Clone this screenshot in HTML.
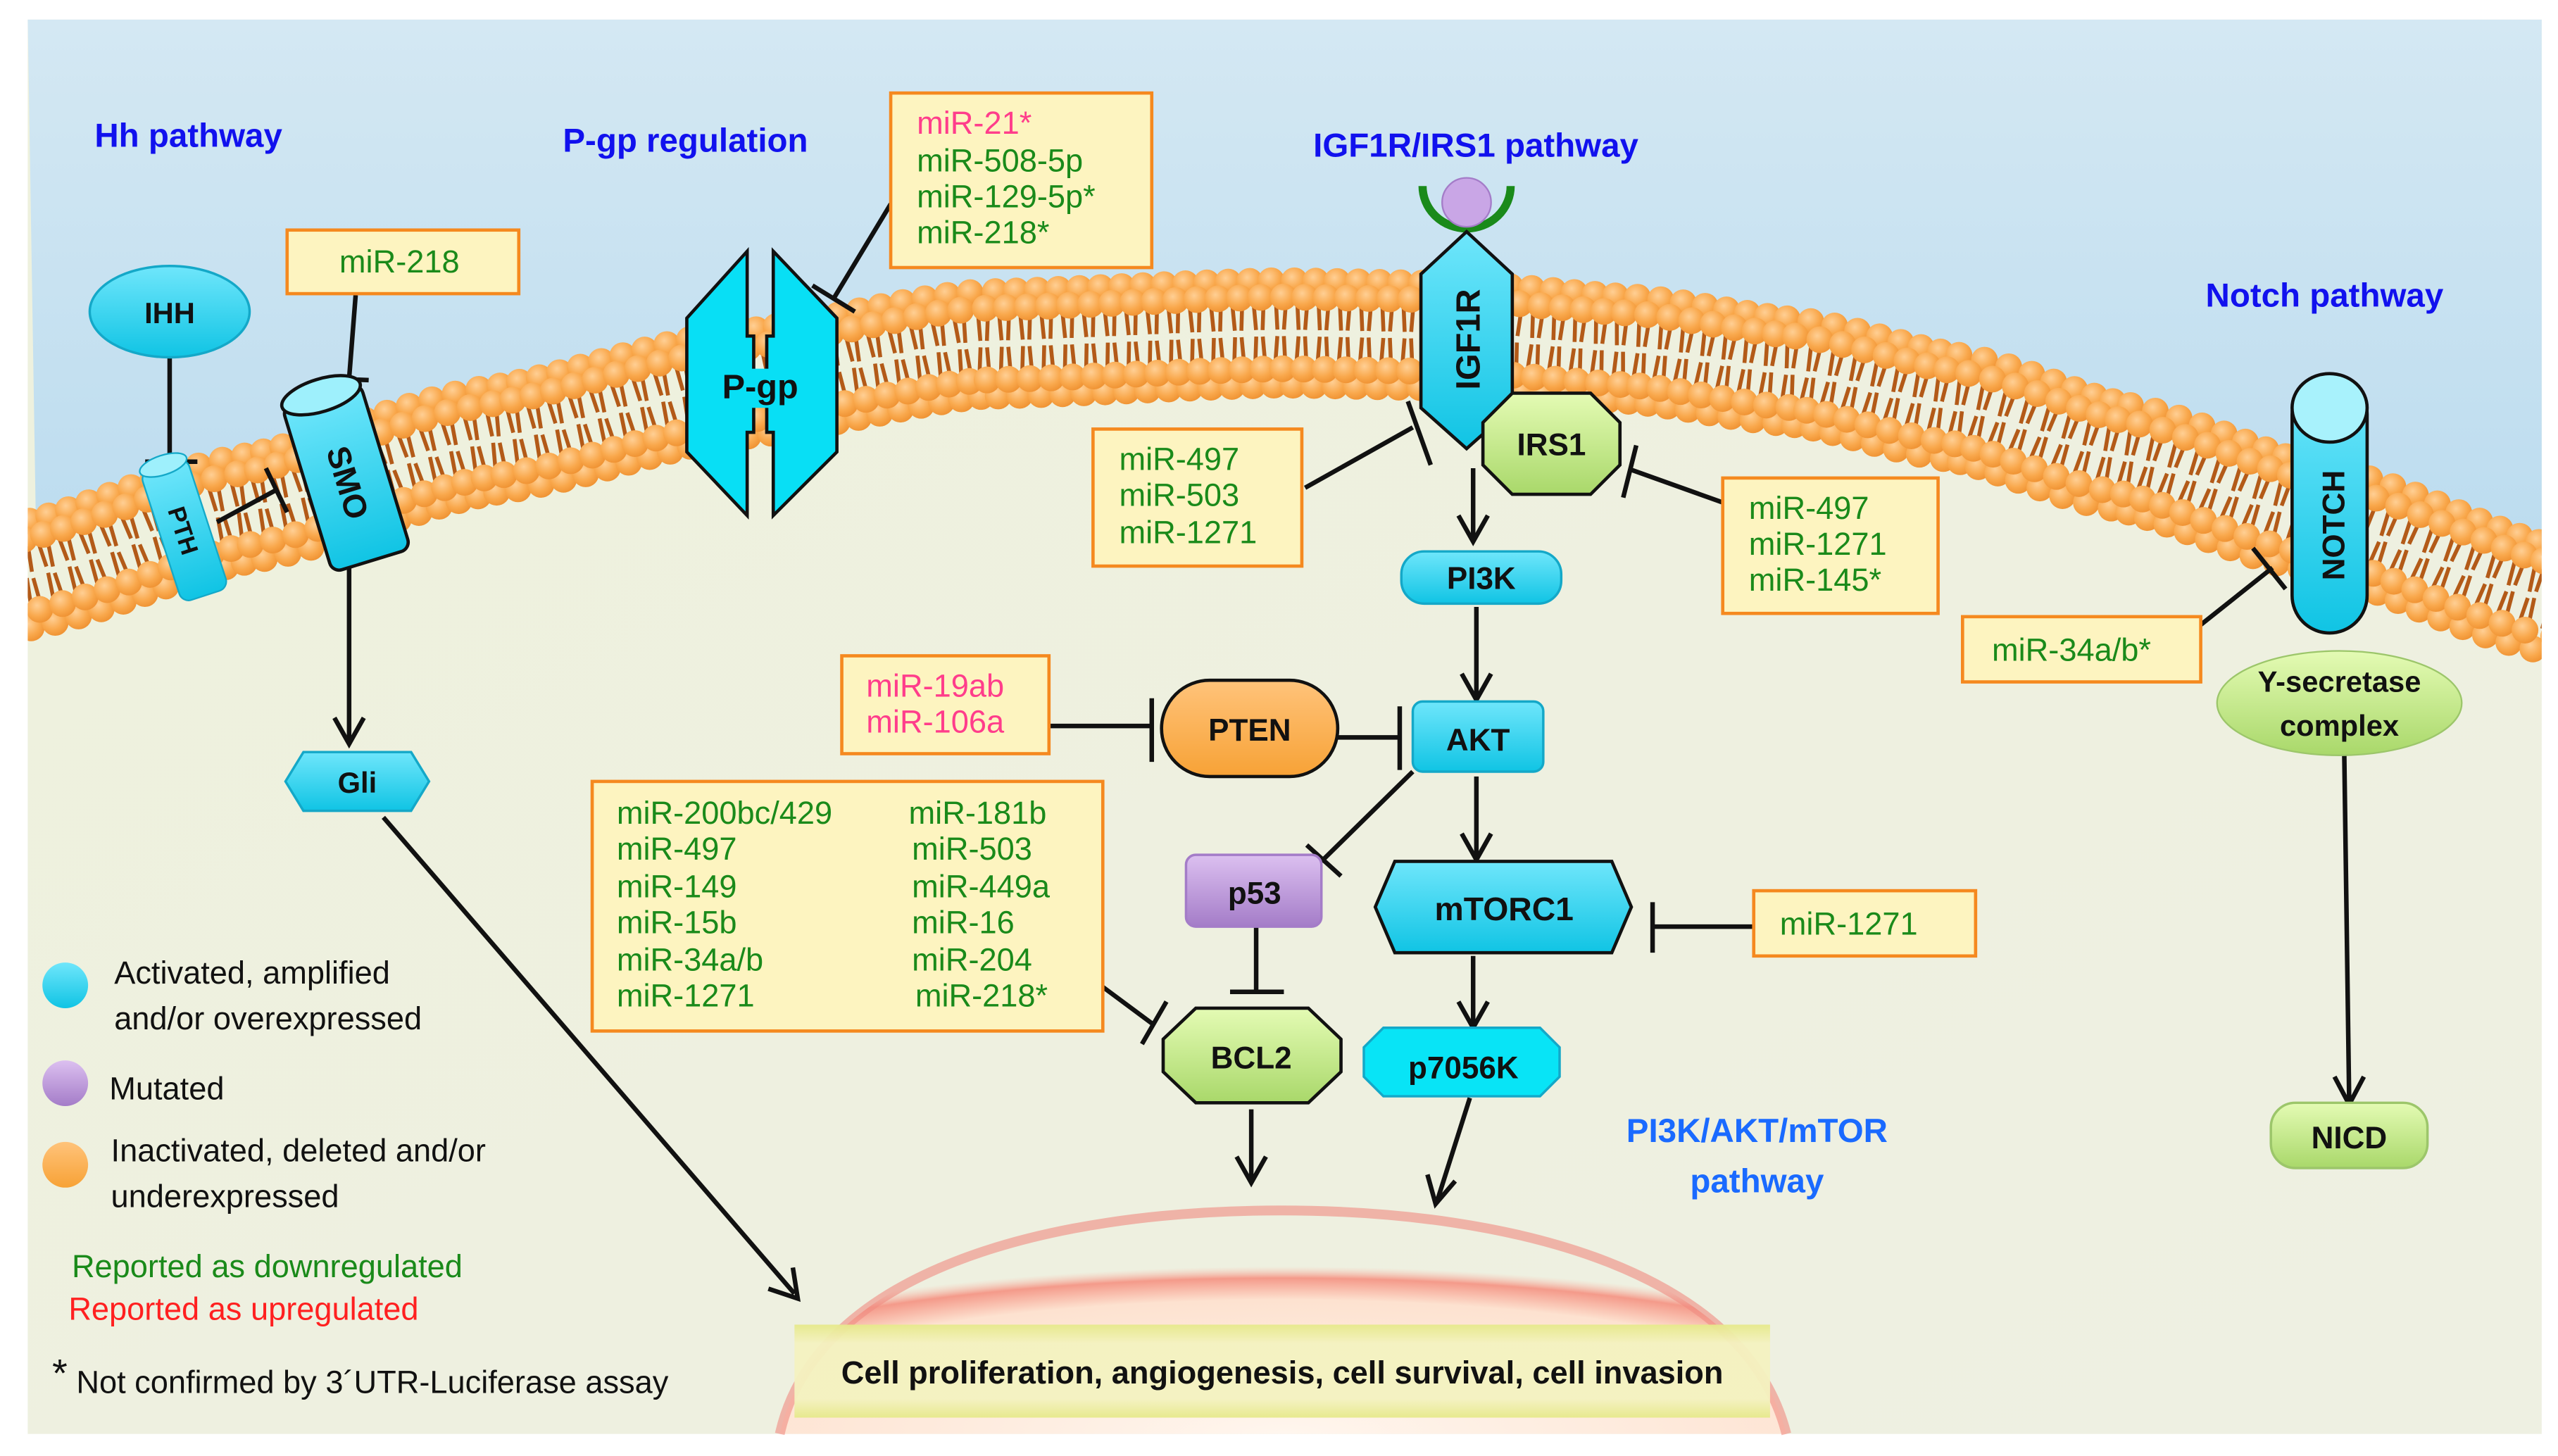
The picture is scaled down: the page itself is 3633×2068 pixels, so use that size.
<!DOCTYPE html>
<html><head><meta charset="utf-8"><style>
html,body{margin:0;padding:0;background:#fff;width:3633px;height:2068px;overflow:hidden}
svg{display:block}
text{font-family:"Liberation Sans",sans-serif}
.b{font-weight:bold;fill:#111}
.g{fill:#1a8a1a}
.p{fill:#ff3d8b}
.bl{fill:#1111ee;font-weight:bold}
</style></head><body>
<svg id="s" width="3633" height="2068" viewBox="0 0 1568 892.5" xmlns="http://www.w3.org/2000/svg">
<defs>
<clipPath id="pc"><rect x="17" y="12" width="1541" height="867"/></clipPath>
<linearGradient id="cream" x1="0" y1="0" x2="1" y2="1"><stop offset="0" stop-color="#eef1dd"/><stop offset="1" stop-color="#eef0e2"/></linearGradient>
<linearGradient id="sky" x1="0" y1="0" x2="0" y2="1"><stop offset="0" stop-color="#d4e8f3"/><stop offset="1" stop-color="#bcdcef"/></linearGradient>
<radialGradient id="ball" cx="0.4" cy="0.35" r="0.7"><stop offset="0" stop-color="#ffcf94"/><stop offset="0.6" stop-color="#f9a84c"/><stop offset="1" stop-color="#ee9030"/></radialGradient>
<linearGradient id="cy" x1="0" y1="0" x2="0" y2="1"><stop offset="0" stop-color="#6fe6fb"/><stop offset="1" stop-color="#10c4e4"/></linearGradient>
<linearGradient id="gr" x1="0" y1="0" x2="0" y2="1"><stop offset="0" stop-color="#e4fbb4"/><stop offset="1" stop-color="#a9d86a"/></linearGradient>
<linearGradient id="pu" x1="0" y1="0" x2="0" y2="1"><stop offset="0" stop-color="#dcc0f0"/><stop offset="1" stop-color="#a47cc8"/></linearGradient>
<linearGradient id="or" x1="0" y1="0" x2="0" y2="1"><stop offset="0" stop-color="#ffc37a"/><stop offset="1" stop-color="#f7a236"/></linearGradient>
<radialGradient id="nuc" cx="0.5" cy="1" r="0.75"><stop offset="0" stop-color="#fff6ee"/><stop offset="0.8" stop-color="#fde2d0"/><stop offset="0.93" stop-color="#f49a8a"/><stop offset="1" stop-color="#f7c7b8" stop-opacity="0"/></radialGradient>
<linearGradient id="cp" x1="0" y1="0" x2="0" y2="1"><stop offset="0" stop-color="#e6e98a"/><stop offset="0.2" stop-color="#f4f2c0"/><stop offset="0.8" stop-color="#f4f2c0"/><stop offset="1" stop-color="#e6e98a"/></linearGradient>
</defs>
<rect x="17" y="12" width="1541" height="867" fill="url(#cream)"/>
<path id="skyp" fill="url(#sky)" d=""/>
<path d="M478,879 C500,780 640,742 785,742 C930,742 1070,780 1095,879 Z" fill="url(#nuc)"/>
<path d="M478,879 C500,780 640,742 785,742 C930,742 1070,780 1095,879" fill="none" stroke="#f08a80" stroke-width="6" opacity="0.6"/>
<rect x="487" y="812" width="598" height="57" fill="url(#cp)" opacity="0.95"/>
<text x="786" y="848" text-anchor="middle" class="b" font-size="19.5">Cell proliferation, angiogenesis, cell survival, cell invasion</text>
<g id="mem" clip-path="url(#pc)"></g>

<g stroke="#111" stroke-width="2.8" fill="none" stroke-linecap="butt">
<line x1="104" y1="218" x2="104" y2="283"/><line x1="89" y1="283" x2="121" y2="283"/>
<line x1="218" y1="181" x2="214" y2="232"/><line x1="201" y1="232" x2="226" y2="233"/>
<line x1="133" y1="320" x2="170" y2="300"/><line x1="163" y1="287" x2="176" y2="314"/>
<line x1="214" y1="345" x2="214" y2="454"/><path d="M205,440 L214,456 L223,440"/>
<line x1="235" y1="501" x2="487" y2="793"/><path d="M471,790 L489,796 L486,777"/>
<line x1="546" y1="125" x2="511" y2="183"/><line x1="498" y1="175" x2="524" y2="191"/>
<line x1="800" y1="299" x2="866" y2="262"/><line x1="863" y1="246" x2="877" y2="285"/>
<line x1="1056" y1="308" x2="1000" y2="288"/><line x1="1003" y1="273" x2="995" y2="305"/>
<line x1="903" y1="287" x2="903" y2="330"/><path d="M894,316 L903,332 L912,316"/>
<line x1="905" y1="372" x2="905" y2="427"/><path d="M896,413 L905,429 L914,413"/>
<line x1="643" y1="445" x2="705" y2="445"/><line x1="706" y1="428" x2="706" y2="467"/>
<line x1="820" y1="452" x2="857" y2="452"/><line x1="858" y1="433" x2="858" y2="472"/>
<line x1="866" y1="473" x2="810" y2="528"/><line x1="801" y1="518" x2="822" y2="537"/>
<line x1="905" y1="476" x2="905" y2="525"/><path d="M896,511 L905,527 L914,511"/>
<line x1="1075" y1="568" x2="1013" y2="568"/><line x1="1013" y1="553" x2="1013" y2="584"/>
<line x1="676" y1="605" x2="707" y2="628"/><line x1="715" y1="614" x2="700" y2="640"/>
<line x1="770" y1="568" x2="770" y2="607"/><line x1="754" y1="608" x2="787" y2="608"/>
<line x1="767" y1="680" x2="767" y2="723"/><path d="M758,709 L767,725 L776,709"/>
<line x1="903" y1="586" x2="903" y2="628"/><path d="M894,614 L903,630 L912,614"/>
<line x1="901" y1="673" x2="881" y2="736"/><path d="M875,720 L880,738 L892,724"/>
<line x1="1349" y1="383" x2="1393" y2="348"/><line x1="1381" y1="336" x2="1401" y2="361"/>
<line x1="1437" y1="463" x2="1440" y2="675"/><path d="M1431,660 L1440,677 L1449,660"/>
</g>

<g fill="#fdf4c0" stroke="#f5891f" stroke-width="2">
<rect x="546" y="57" width="160" height="107"/>
<rect x="176" y="141" width="142" height="39"/>
<rect x="670" y="263" width="128" height="84"/>
<rect x="1056" y="293" width="132" height="83"/>
<rect x="516" y="402" width="127" height="60"/>
<rect x="363" y="479" width="313" height="153"/>
<rect x="1075" y="546" width="136" height="40"/>
<rect x="1203" y="378" width="146" height="40"/>
</g>
<g font-size="19.5">
<text x="562" y="82" class="p">miR-21*</text>
<text x="562" y="105" class="g">miR-508-5p</text>
<text x="562" y="127" class="g">miR-129-5p*</text>
<text x="562" y="149" class="g">miR-218*</text>
<text x="208" y="167" class="g">miR-218</text>
<text x="686" y="288" class="g">miR-497</text>
<text x="686" y="310" class="g">miR-503</text>
<text x="686" y="333" class="g">miR-1271</text>
<text x="1072" y="318" class="g">miR-497</text>
<text x="1072" y="340" class="g">miR-1271</text>
<text x="1072" y="362" class="g">miR-145*</text>
<text x="531" y="427" class="p">miR-19ab</text>
<text x="531" y="449" class="p">miR-106a</text>
<text x="378" y="505" class="g">miR-200bc/429</text>
<text x="378" y="527" class="g">miR-497</text>
<text x="378" y="550" class="g">miR-149</text>
<text x="378" y="572" class="g">miR-15b</text>
<text x="378" y="595" class="g">miR-34a/b</text>
<text x="378" y="617" class="g">miR-1271</text>
<text x="557" y="505" class="g">miR-181b</text>
<text x="559" y="527" class="g">miR-503</text>
<text x="559" y="550" class="g">miR-449a</text>
<text x="559" y="572" class="g">miR-16</text>
<text x="559" y="595" class="g">miR-204</text>
<text x="561" y="617" class="g">miR-218*</text>
<text x="1091" y="573" class="g">miR-1271</text>
<text x="1221" y="405" class="g">miR-34a/b*</text>
</g>

<g font-size="20.5">
<text x="58" y="90" class="bl">Hh pathway</text>
<text x="345" y="93" class="bl">P-gp regulation</text>
<text x="805" y="96" class="bl">IGF1R/IRS1 pathway</text>
<text x="1352" y="188" class="bl">Notch pathway</text>
<text x="1077" y="700" text-anchor="middle" font-weight="bold" fill="#1a6aff">PI3K/AKT/mTOR</text>
<text x="1077" y="731" text-anchor="middle" font-weight="bold" fill="#1a6aff">pathway</text>
</g>

<ellipse cx="104" cy="191" rx="49" ry="28" fill="url(#cy)" stroke="#14a8c8" stroke-width="1.5"/>
<text x="104" y="198" text-anchor="middle" class="b" font-size="18">IHH</text>
<g transform="translate(113,325) rotate(-18)">
<rect x="-15" y="-42" width="30" height="84" rx="6" fill="url(#cy)" stroke="#14a8c8"/>
<ellipse cx="0" cy="-42" rx="15" ry="6" fill="#9ef0fc" stroke="#14a8c8"/>
<text transform="rotate(90)" x="0" y="6" text-anchor="middle" class="b" font-size="15">PTH</text>
</g>
<g transform="translate(212,292) rotate(-17)">
<rect x="-25" y="-52" width="50" height="106" rx="6" fill="url(#cy)" stroke="#111" stroke-width="2"/>
<ellipse cx="0" cy="-52" rx="25" ry="10" fill="#9ef0fc" stroke="#111" stroke-width="2"/>
<text transform="rotate(90)" x="4" y="7" text-anchor="middle" class="b" font-size="20">SMO</text>
</g>
<polygon points="186,461 252,461 263,479 252,497 186,497 175,479" fill="url(#cy)" stroke="#14a8c8" stroke-width="1.5"/>
<text x="219" y="486" text-anchor="middle" class="b" font-size="18">Gli</text>

<polygon points="458,154 421,195 421,277 458,316 458,265 462,265 462,206 458,206" fill="#08dff5" stroke="#111" stroke-width="2"/>
<polygon points="474,154 513,195 513,277 474,316 474,265 470,265 470,206 474,206" fill="#08dff5" stroke="#111" stroke-width="2"/>
<rect x="440" y="226" width="52" height="24" fill="#08dff5"/>
<text x="466" y="244" text-anchor="middle" class="b" font-size="21">P-gp</text>

<path d="M872,114 A27,26 0 0 0 926,114" fill="none" stroke="#1a8a1a" stroke-width="5"/>
<circle cx="899" cy="124" r="15" fill="#c9a6e6" stroke="#a47cc8"/>
<polygon points="899,142 927,168 927,250 899,275 871,250 871,168" fill="url(#cy)" stroke="#111" stroke-width="2"/>
<text transform="translate(907,208) rotate(-90)" text-anchor="middle" class="b" font-size="21">IGF1R</text>
<polygon points="927,241 975,241 993,259 993,285 975,303 927,303 909,285 909,259" fill="url(#gr)" stroke="#111" stroke-width="2"/>
<text x="951" y="279" text-anchor="middle" class="b" font-size="19">IRS1</text>
<rect x="859" y="338" width="98" height="32" rx="14" fill="url(#cy)" stroke="#14a8c8" stroke-width="1.5"/>
<text x="908" y="361" text-anchor="middle" class="b" font-size="19">PI3K</text>
<rect x="866" y="430" width="80" height="43" rx="6" fill="url(#cy)" stroke="#14a8c8" stroke-width="1.5"/>
<text x="906" y="460" text-anchor="middle" class="b" font-size="19">AKT</text>
<rect x="712" y="417" width="108" height="59" rx="29.5" fill="url(#or)" stroke="#111" stroke-width="2"/>
<text x="766" y="454" text-anchor="middle" class="b" font-size="19">PTEN</text>
<rect x="727" y="524" width="83" height="44" rx="6" fill="url(#pu)" stroke="#a47cc8" stroke-width="1.5"/>
<text x="769" y="554" text-anchor="middle" class="b" font-size="19">p53</text>
<polygon points="855,528 988,528 1000,556 988,584 855,584 843,556" fill="url(#cy)" stroke="#111" stroke-width="2"/>
<text x="922" y="564" text-anchor="middle" class="b" font-size="20">mTORC1</text>
<polygon points="733,618 802,618 822,637 822,657 802,676 733,676 713,657 713,637" fill="url(#gr)" stroke="#111" stroke-width="2"/>
<text x="767" y="655" text-anchor="middle" class="b" font-size="19">BCL2</text>
<polygon points="848,630 944,630 956,642 956,660 944,672 848,672 836,660 836,642" fill="#08e4f6" stroke="#14a8c8" stroke-width="1.5"/>
<text x="897" y="661" text-anchor="middle" class="b" font-size="19">p7056K</text>

<rect x="1405" y="231" width="46" height="157" rx="23" fill="url(#cy)" stroke="#111" stroke-width="2"/>
<ellipse cx="1428" cy="250" rx="23" ry="21" fill="#a8f2fc" stroke="#111" stroke-width="2"/>
<text transform="translate(1437,322) rotate(-90)" text-anchor="middle" class="b" font-size="19">NOTCH</text>
<ellipse cx="1434" cy="431" rx="75" ry="32" fill="url(#gr)" stroke="#9cc66a"/>
<text x="1434" y="424" text-anchor="middle" class="b" font-size="18">Y-secretase</text>
<text x="1434" y="451" text-anchor="middle" class="b" font-size="18">complex</text>
<rect x="1392" y="676" width="96" height="40" rx="15" fill="url(#gr)" stroke="#9cc66a" stroke-width="1.5"/>
<text x="1440" y="704" text-anchor="middle" class="b" font-size="19">NICD</text>

<circle cx="40" cy="604" r="14" fill="url(#cy)"/>
<circle cx="40" cy="664" r="14" fill="url(#pu)"/>
<circle cx="40" cy="714" r="14" fill="url(#or)"/>
<g font-size="19.5" fill="#111">
<text x="70" y="603">Activated, amplified</text>
<text x="70" y="631">and/or overexpressed</text>
<text x="67" y="674">Mutated</text>
<text x="68" y="712">Inactivated, deleted and/or</text>
<text x="68" y="740">underexpressed</text>
<text x="44" y="783" fill="#1a8a1a">Reported as downregulated</text>
<text x="42" y="809" fill="#ff2020">Reported as upregulated</text>
<text x="32" y="854"><tspan font-size="24" dy="-4">*</tspan><tspan dy="4"> Not confirmed by 3´UTR-Luciferase assay</tspan></text>
</g>
</svg>
<script>
(function(){
var P=[[10,354],[150,312],[300,270],[450,236],[600,211],[784,204],[900,206],[1000,214],[1100,228],[1200,250],[1300,280],[1420,318],[1566,368]];
function y(x){if(x<=P[0][0])return P[0][1];for(var i=0;i<P.length-1;i++){if(x<=P[i+1][0]){var a=P[i],b=P[i+1],t=(x-a[0])/(b[0]-a[0]);var s=t*t*(3-2*t);
 var ya=a[1],yb=b[1];return (ya+(yb-ya)*t)*0.6+(ya+(yb-ya)*s)*0.4;}}return P[P.length-1][1];}
var ns="http://www.w3.org/2000/svg",g=document.getElementById("mem");
var d="M17,12 L1558,12 L1558,"+(y(1558)-30);
for(var x=1558;x>=17;x-=6)d+=" L"+x+","+(y(x)-30);
d+=" Z";document.getElementById("skyp").setAttribute("d",d);
function el(n,a){var e=document.createElementNS(ns,n);for(var k in a)e.setAttribute(k,a[k]);g.appendChild(e);return e;}
function nrm(x){var dy=(y(x+1)-y(x-1))/2;var L=Math.sqrt(1+dy*dy);return [-dy/L,1/L];}
for(var x=5;x<=1570;x+=13){var n=nrm(x),yy=y(x);
 for(var k=-1;k<=1;k+=2){
  var x0=x+n[0]*k*18,y0=yy+n[1]*k*18;
  el("path",{d:"M"+(x0-3)+","+y0+" l"+(n[0]*(-k)*16+1)+","+(n[1]*(-k)*16)+" M"+(x0+3)+","+y0+" l"+(n[0]*(-k)*16-1)+","+(n[1]*(-k)*16),stroke:"#b35a18","stroke-width":"2.4",fill:"none"});
 }}
[-32,32,-22,22].forEach(function(off){var sh=(Math.abs(off)==22)?6.5:0;
 for(var x=0;x<=1575;x+=13){var xx=x+sh;var n=nrm(xx),yy=y(xx);
  el("circle",{cx:xx+n[0]*off,cy:yy+n[1]*off,r:8.2,fill:"url(#ball)"});}});
})();
</script>
</body></html>
